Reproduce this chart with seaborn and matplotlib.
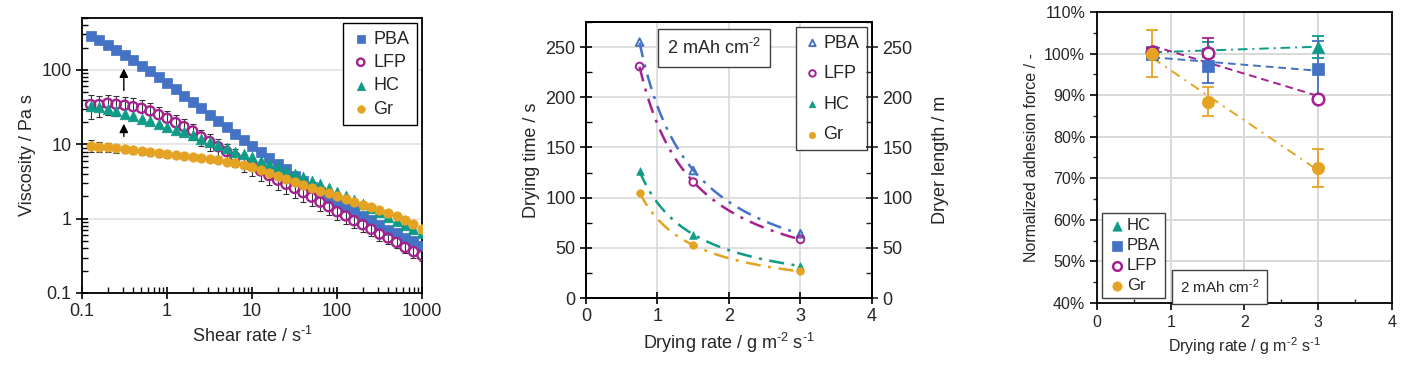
import seaborn as sns
import matplotlib.pyplot as plt
from matplotlib.ticker import NullFormatter, MultipleLocator, PercentFormatter, LogLocator
import numpy as np

sns.set_theme(style="ticks")
plt.rcParams['font.family'] = ['Liberation Sans', 'DejaVu Sans']
plt.rcParams['mathtext.fontset'] = 'custom'
plt.rcParams['mathtext.rm'] = 'Liberation Sans'
plt.rcParams['mathtext.default'] = 'regular'
plt.rcParams['axes.edgecolor'] = 'black'
plt.rcParams['axes.linewidth'] = 1.3

# colours
c_pba = "#4472C4"
c_lfp = "#A3228F"
c_hc = "#0E9C87"
c_gr = "#E5A323"

# ---------- panel 1: viscosity curves ----------
shear = [0.126, 0.158, 0.2, 0.251, 0.316, 0.398, 0.501, 0.631, 0.794, 1.0,
         1.26, 1.58, 2.0, 2.51, 3.16, 3.98, 5.01, 6.31, 7.94, 10.0,
         12.6, 15.8, 20.0, 25.1, 31.6, 39.8, 50.1, 63.1, 79.4, 100.0,
         126, 158, 200, 251, 316, 398, 501, 631, 794, 1000]
visc_pba = [286, 251, 219, 188, 161, 136, 114, 96, 80, 66,
            55, 45, 37.5, 30.8, 24.8, 20.4, 16.9, 13.9, 11.6, 9.5,
            7.8, 6.5, 5.5, 4.6, 3.8, 3.2, 2.7, 2.26, 1.9, 1.69,
            1.45, 1.26, 1.09, 0.96, 0.83, 0.71, 0.635, 0.555, 0.495, 0.43]
visc_lfp = [34.2, 34.2, 35.6, 34.5, 33.5, 32.1, 30.5, 28.1, 25.1, 22.4,
            19.6, 17.3, 15.1, 12.6, 10.9, 9.3, 8.0, 6.8, 5.9, 5.1,
            4.4, 3.8, 3.3, 2.9, 2.56, 2.24, 1.95, 1.67, 1.45, 1.24,
            1.09, 0.94, 0.83, 0.72, 0.62, 0.55, 0.48, 0.41, 0.36, 0.32]
visc_hc = [32.8, 31.5, 29.6, 27.8, 25.9, 23.8, 22.1, 20.4, 18.8, 17.3,
           15.8, 14.5, 13.4, 11.7, 10.9, 9.9, 8.8, 7.9, 7.4, 6.8,
           6.0, 5.4, 4.9, 4.4, 4.0, 3.6, 3.25, 2.9, 2.6, 2.3,
           2.02, 1.78, 1.57, 1.38, 1.22, 1.06, 0.92, 0.81, 0.72, 0.64]
visc_gr = [9.6, 9.3, 9.1, 8.8, 8.6, 8.3, 8.05, 7.8, 7.6, 7.4,
           7.2, 7.0, 6.8, 6.55, 6.35, 6.1, 5.8, 5.55, 5.3, 5.0,
           4.5, 4.1, 3.75, 3.4, 3.1, 2.84, 2.6, 2.38, 2.19, 2.0,
           1.84, 1.67, 1.54, 1.42, 1.29, 1.18, 1.07, 0.96, 0.85, 0.73]
err_lfp = [12, 11, 11, 10.5, 10, 9.5, 8.5, 7.5, 6.5, 5.8,
           5.0, 4.4, 3.8, 3.2, 2.8, 2.4, 2.1, 1.8, 1.6, 1.4,
           1.2, 1.0, 0.85, 0.75, 0.65, 0.56, 0.48, 0.4, 0.34, 0.29,
           0.24, 0.2, 0.17, 0.14, 0.12, 0.1, 0.08, 0.07, 0.06, 0.05]
err_gr = [1.7, 1.3, 1.2, 1.1, 1.0, 1.0, 0.95, 0.9, 0.85, 0.8,
          0.75, 0.7, 0.65, 0.6, 0.55, 0.5, 0.5, 0.45, 0.45, 0.4,
          0.35, 0.3, 0.3, 0.25, 0.25, 0.2, 0.2, 0.18, 0.16, 0.15,
          0.13, 0.12, 0.11, 0.1, 0.09, 0.08, 0.07, 0.06, 0.05, 0.05]

# ---------- panel 2: drying time ----------
rate = [0.75, 1.5, 3.0]
time_pba = [255, 127, 64]
time_lfp = [230.7, 115.5, 58.4]
time_hc = [126.5, 63, 32]
time_gr = [105, 52.5, 26.5]

# ---------- panel 3: adhesion ----------
adh_hc = [100.2, 100.9, 101.6]
adh_pba = [99.8, 97.0, 96.2]
adh_lfp = [100.3, 100.2, 89.0]
adh_gr = [100.0, 88.4, 72.4]
adh_err_hc = [1.4, 1.8, 2.7]
adh_err_pba = [1.0, 4.0, 6.8]
adh_err_lfp = [1.0, 3.5, 0.5]
adh_err_gr = [5.6, 3.5, 4.6]

rate_label = r'Drying rate / g m$^{\text{-2}}$ s$^{\text{-1}}$'
mah_label = r'2 mAh cm$^{\text{-2}}$'

fig = plt.figure(figsize=(14.1, 3.69), dpi=100)

ax1 = fig.add_axes([0.0582, 0.206, 0.2411, 0.7452])
ax2 = fig.add_axes([0.4156, 0.1924, 0.2028, 0.748])
ax3 = fig.add_axes([0.778, 0.1789, 0.2092, 0.7886])

# ---- panel 1 ----
ax1.set_xscale('log')
ax1.set_yscale('log')
ax1.errorbar(shear, visc_lfp, yerr=err_lfp, fmt='none', ecolor='#333333',
             elinewidth=0.8, capsize=2.5, capthick=0.8, zorder=1)
ax1.errorbar(shear, visc_gr, yerr=err_gr, fmt='none', ecolor='#333333',
             elinewidth=0.8, capsize=2.5, capthick=0.8, zorder=1)
sns.scatterplot(x=shear, y=visc_pba, ax=ax1, marker='s', s=44, color=c_pba,
                edgecolor=c_pba, linewidth=0.5, label='PBA', zorder=3)
sns.scatterplot(x=shear, y=visc_lfp, ax=ax1, marker='o', s=44, color=c_lfp,
                facecolor='none', edgecolor=c_lfp, linewidth=1.7, label='LFP', zorder=3)
sns.scatterplot(x=shear, y=visc_hc, ax=ax1, marker='^', s=58, color=c_hc,
                edgecolor=c_hc, linewidth=0.5, label='HC', zorder=3)
sns.scatterplot(x=shear, y=visc_gr, ax=ax1, marker='o', s=46, color=c_gr,
                edgecolor=c_gr, linewidth=0.5, label='Gr', zorder=3)
ax1.annotate('', xy=(0.31, 114), xytext=(0.31, 48.5),
             arrowprops=dict(arrowstyle='-|>', color='black', lw=1, mutation_scale=13))
ax1.annotate('', xy=(0.31, 20.6), xytext=(0.31, 11.7),
             arrowprops=dict(arrowstyle='-|>', color='black', lw=1, mutation_scale=13))
ax1.set_xlim(0.1, 1000)
ax1.set_ylim(0.1, 500)
ax1.set_xticks([0.1, 1, 10, 100, 1000], labels=['0.1', '1', '10', '100', '1000'])
ax1.set_yticks([0.1, 1, 10, 100], labels=['0.1', '1', '10', '100'])
ax1.xaxis.set_minor_locator(LogLocator(subs=np.arange(2, 10)))
ax1.yaxis.set_minor_locator(LogLocator(subs=np.arange(2, 10)))
ax1.xaxis.set_minor_formatter(NullFormatter())
ax1.yaxis.set_minor_formatter(NullFormatter())
ax1.yaxis.grid(True, which='major', color='#e3e3e3', lw=1.2)
ax1.set_axisbelow(True)
ax1.set_xlabel(r'Shear rate / s$^{\text{-1}}$', fontsize=13)
ax1.set_ylabel('Viscosity / Pa s', fontsize=13)
ax1.legend(loc='upper right', fontsize=13, frameon=True, fancybox=False,
           edgecolor='black', framealpha=1, handletextpad=0.1, handlelength=1.2,
           borderaxespad=0.3, labelspacing=0.35, markerscale=0.8)

# ---- panel 2 ----
xfit = np.linspace(0.75, 3.0, 120)
series2 = [(time_pba, c_pba, '^', 'none', 'PBA'),
           (time_lfp, c_lfp, 'o', 'none', 'LFP'),
           (time_hc, c_hc, '^', None, 'HC'),
           (time_gr, c_gr, 'o', None, 'Gr')]
for vals, col, mk, fc, lab in series2:
    k, lna = np.polyfit(np.log(rate), np.log(vals), 1)
    yfit = np.exp(lna) * xfit ** k
    sns.lineplot(x=xfit, y=yfit, ax=ax2, color=col, lw=1.8,
                 linestyle=(0, (6, 3, 1.2, 3)), zorder=2)
    if fc == 'none':
        sns.scatterplot(x=rate, y=vals, ax=ax2, marker=mk, s=30, color=col,
                        facecolor='none', edgecolor=col, linewidth=1.4, label=lab, zorder=3)
    else:
        sns.scatterplot(x=rate, y=vals, ax=ax2, marker=mk, s=30, color=col,
                        edgecolor=col, linewidth=0.5, label=lab, zorder=3)
ax2.set_xlim(0, 4)
ax2.set_ylim(0, 275)
ax2.set_xticks([0, 1, 2, 3, 4])
ax2.set_yticks([0, 50, 100, 150, 200, 250])
ax2.yaxis.set_minor_locator(MultipleLocator(25))
ax2.grid(True, which='major', color='#d9d9d9', lw=1.2)
ax2.set_axisbelow(True)
ax2.set_xlabel(rate_label, fontsize=13)
ax2.set_ylabel('Drying time / s', fontsize=13)
ax2.legend(loc='upper right', fontsize=13, frameon=True, fancybox=False,
           edgecolor='#404040', framealpha=1, handletextpad=0.1, handlelength=1.0,
           borderaxespad=0.3, labelspacing=0.75, markerscale=0.85)
ax2.text(0.285, 0.905, mah_label, transform=ax2.transAxes, fontsize=13,
         va='center', ha='left',
         bbox=dict(boxstyle='square,pad=0.5', fc='white', ec='#404040', lw=1))
ax2r = ax2.twinx()
ax2r.set_ylim(0, 275)
ax2r.set_yticks([0, 50, 100, 150, 200, 250])
ax2r.yaxis.set_minor_locator(MultipleLocator(25))
ax2r.set_ylabel('Dryer length / m', fontsize=13, labelpad=14)
ax2r.tick_params(axis='y', which='major', direction='inout', length=8, width=1.2, labelsize=13)
ax2r.tick_params(axis='y', which='minor', direction='in', length=4, width=1.0)
ax2r.grid(False)

# ---- panel 3 ----
series3 = [(adh_hc, adh_err_hc, c_hc, '^', None, 'HC', (0, (5, 2.5, 1, 2.5))),
           (adh_pba, adh_err_pba, c_pba, 's', None, 'PBA', (0, (4, 2.5))),
           (adh_lfp, adh_err_lfp, c_lfp, 'o', 'none', 'LFP', (0, (4, 2.5))),
           (adh_gr, adh_err_gr, c_gr, 'o', None, 'Gr', (0, (5, 3, 1, 3)))]
for vals, err, col, mk, fc, lab, ls in series3:
    m, b = np.polyfit(rate, vals, 1)
    sns.lineplot(x=xfit, y=m * xfit + b, ax=ax3, color=col, lw=1.4,
                 linestyle=ls, zorder=2)
    ax3.errorbar(rate, vals, yerr=err, fmt='none', ecolor=col, elinewidth=1.3,
                 capsize=4, capthick=1.3, zorder=3)
    if fc == 'none':
        sns.scatterplot(x=rate, y=vals, ax=ax3, marker=mk, s=70, color=col,
                        facecolor='white', edgecolor=col, linewidth=1.8, label=lab, zorder=4)
    else:
        sns.scatterplot(x=rate, y=vals, ax=ax3, marker=mk, s=80, color=col,
                        edgecolor=col, linewidth=0.5, label=lab, zorder=4)
ax3.set_xlim(0, 4)
ax3.set_ylim(40, 110)
ax3.set_xticks([0, 1, 2, 3, 4])
ax3.set_yticks(np.arange(40, 111, 10))
ax3.yaxis.set_major_formatter(PercentFormatter(decimals=0))
ax3.yaxis.set_minor_locator(MultipleLocator(5))
ax3.xaxis.set_minor_locator(MultipleLocator(0.5))
ax3.grid(True, which='major', color='#d9d9d9', lw=1.4)
ax3.set_axisbelow(True)
ax3.set_xlabel(rate_label, fontsize=11.5)
ax3.set_ylabel('Normalized adhesion force / -', fontsize=11.5)
ax3.legend(loc='lower left', fontsize=12, frameon=True, fancybox=False,
           edgecolor='#404040', framealpha=1, handletextpad=0.0, handlelength=1.2,
           borderaxespad=0.3, labelspacing=0.3, markerscale=0.75, borderpad=0.3)
ax3.text(0.28, 0.055, mah_label, transform=ax3.transAxes, fontsize=11,
         va='center', ha='left',
         bbox=dict(boxstyle='square,pad=0.5', fc='white', ec='#404040', lw=1))

for ax in (ax1, ax2):
    ax.tick_params(which='major', direction='inout', length=8, width=1.2, labelsize=13,
                   color='black')
    ax.tick_params(which='minor', direction='in', length=4, width=1.0, color='black')
ax1.tick_params(axis='x', which='minor', direction='in', length=4)
ax3.tick_params(which='major', direction='out', length=5, width=1.2, labelsize=11.5,
                color='black')
ax3.tick_params(axis='y', which='minor', direction='out', length=3, width=1.0)
ax3.tick_params(axis='x', which='minor', direction='in', length=3, width=1.0)
for ax in (ax1, ax2, ax3):
    for sp in ax.spines.values():
        sp.set_visible(True)
        sp.set_color('black')

fig.savefig('out.png', dpi=100)
